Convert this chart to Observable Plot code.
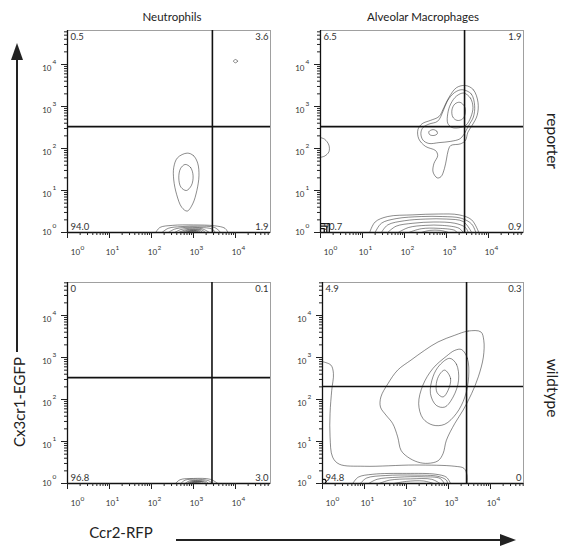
<!DOCTYPE html>
<html><head><meta charset="utf-8">
<script src="https://cdn.jsdelivr.net/npm/d3@7"></script>
<script src="https://cdn.jsdelivr.net/npm/@observablehq/plot@0.6"></script>
<style>
body{margin:0;background:#fff;}
#root{position:relative;width:561px;height:546px;overflow:hidden;font-family:Lato,"Open Sans",sans-serif;color:#222;}
.panel{position:absolute;}
.lbl{position:absolute;white-space:nowrap;line-height:1;}
.bar{position:absolute;background:#222;}
.head{position:absolute;width:0;height:0;}
</style></head><body><div id="root"></div>
<script>
// ---- categories & labels ----
const cellTypes = ["Neutrophils", "Alveolar Macrophages"];
const genotypes = ["reporter", "wildtype"];
const xAxisTitle = "Ccr2-RFP";
const yAxisTitle = "Cx3cr1-EGFP";
const decades = [0, 1, 2, 3, 4];
const tickBase = "10";

// ---- quadrant percentages [UL, UR, LL, LR] ----
const quadNeutroReporter = ["0.5", "3.6", "94.0", "1.9"];
const quadMacroReporter = ["6.5", "1.9", "90.7", "0.9"];
const quadNeutroWildtype = ["0", "0.1", "96.8", "3.0"];
const quadMacroWildtype = ["4.9", "0.3", "94.8", "0"];

// ---- gates (log10 units) for panels TL, TR, BL, BR ----
const gateCcr2 = [3.45, 3.43, 3.44, 3.43];
const gateCx3cr1 = [2.52, 2.52, 2.52, 2.31];

// ---- contours, in log10 (decade) units: [log10 Ccr2, log10 Cx3cr1] ----
const nrLoops = [
  [[2.85,1.89],[3.0,1.83],[3.10,1.65],[3.13,1.35],[3.08,1.0],[2.98,0.68],[2.85,0.51],[2.72,0.6],[2.6,0.9],[2.53,1.25],[2.53,1.55],[2.62,1.78]],
  [[2.8,1.62],[2.93,1.55],[2.99,1.35],[2.95,1.12],[2.83,1.0],[2.7,1.08],[2.65,1.3],[2.69,1.52]],
  [[4.0,4.12],[4.05,4.08],[4.0,4.04],[3.95,4.08]]
];
const nrHumps = [
  [[2.1,0],[2.2,0.12],[2.5,0.17],[3.0,0.18],[3.5,0.16],[3.75,0.1],[3.82,0]],
  [[2.25,0],[2.4,0.1],[2.7,0.14],[3.1,0.15],[3.5,0.12],[3.65,0]],
  [[2.4,0],[2.55,0.08],[2.8,0.12],[3.15,0.12],[3.45,0.08],[3.52,0]],
  [[2.55,0],[2.7,0.07],[2.9,0.1],[3.2,0.09],[3.38,0]],
  [[2.65,0],[2.8,0.06],[3.0,0.08],[3.2,0.06],[3.28,0]],
  [[2.72,0],[2.85,0.05],[3.0,0.065],[3.15,0.05],[3.22,0]],
  [[2.78,0],[2.9,0.04],[3.0,0.05],[3.12,0.035],[3.17,0]],
  [[2.83,0],[2.92,0.03],[3.02,0.035],[3.1,0.02],[3.13,0]],
  [[2.87,0],[2.95,0.02],[3.03,0.02],[3.08,0]]
];

const mrLoops = [
  [[3.45,3.5],[3.64,3.40],[3.75,3.10],[3.73,2.79],[3.61,2.55],[3.51,2.39],[3.45,2.19],[3.33,2.11],[3.10,2.07],[3.04,1.95],[3.0,1.75],[2.95,1.52],[2.87,1.33],[2.78,1.30],[2.68,1.44],[2.70,1.64],[2.79,1.83],[2.74,1.95],[2.5,2.05],[2.34,2.23],[2.32,2.45],[2.42,2.59],[2.62,2.67],[2.82,2.76],[2.94,2.98],[3.06,3.22],[3.24,3.45]],
  [[3.37,3.40],[3.59,3.30],[3.67,3.02],[3.64,2.75],[3.53,2.55],[3.41,2.33],[3.32,2.23],[3.10,2.17],[2.82,2.14],[2.58,2.12],[2.44,2.20],[2.39,2.36],[2.44,2.50],[2.58,2.58],[2.79,2.65],[2.92,2.89],[3.02,3.13],[3.19,3.33]],
  [[3.41,3.32],[3.57,3.20],[3.63,2.98],[3.58,2.75],[3.47,2.56],[3.33,2.50],[3.13,2.50],[3.03,2.60],[3.03,2.83],[3.10,3.06],[3.24,3.25]],
  [[3.32,3.10],[3.43,3.0],[3.45,2.85],[3.38,2.70],[3.25,2.67],[3.15,2.75],[3.13,2.92],[3.2,3.06]],
  [[2.68,2.45],[2.77,2.41],[2.78,2.35],[2.7,2.31],[2.6,2.33],[2.58,2.4]]
];
const mrHumps = [
  [[0,2.26],[0.1,2.22],[0.2,2.08],[0.2,1.92],[0.1,1.82],[0,1.79]],
  [[1.17,0],[1.3,0.25],[1.6,0.38],[2.2,0.42],[2.8,0.44],[3.3,0.42],[3.6,0.3],[3.77,0]],
  [[1.3,0],[1.45,0.22],[1.8,0.33],[2.4,0.38],[2.9,0.38],[3.35,0.34],[3.6,0.2],[3.7,0]],
  [[1.45,0],[1.6,0.18],[2.0,0.28],[2.5,0.32],[3.0,0.32],[3.4,0.26],[3.6,0]],
  [[1.6,0],[1.8,0.15],[2.2,0.22],[2.7,0.25],[3.2,0.22],[3.45,0.12],[3.52,0]],
  [[1.85,0],[2.1,0.12],[2.5,0.17],[2.9,0.17],[3.3,0.1],[3.4,0]],
  [[2.1,0],[2.4,0.09],[2.8,0.1],[3.2,0.05],[3.25,0]],
  [[2.4,0],[2.6,0.05],[2.85,0.05],[3.05,0]]
];
const mrCorners = [
  [[0,0.21],[0.21,0.21],[0.21,0]],
  [[0,0.15],[0.15,0.15],[0.15,0]],
  [[0,0.09],[0.09,0.09],[0.09,0]]
];

const nwLoops = [];
const nwHumps = [
  [[2.57,0],[2.68,0.09],[3.0,0.12],[3.4,0.1],[3.58,0]],
  [[2.7,0],[2.8,0.08],[3.05,0.1],[3.35,0.07],[3.45,0]],
  [[2.8,0],[2.9,0.06],[3.1,0.07],[3.3,0.05],[3.35,0]],
  [[2.85,0],[2.95,0.05],[3.1,0.055],[3.25,0.04],[3.3,0]],
  [[2.88,0],[3.0,0.045],[3.2,0.04],[3.25,0]],
  [[2.92,0],[3.02,0.03],[3.15,0.025],[3.2,0]],
  [[2.95,0],[3.05,0.02],[3.15,0]]
];

const mwLoops = [
  [[3.77,3.61],[3.47,3.63],[3.15,3.53],[2.75,3.37],[2.43,3.17],[2.11,2.94],[1.79,2.70],[1.56,2.38],[1.39,2.06],[1.38,1.82],[1.51,1.63],[1.67,1.43],[1.79,1.11],[1.87,0.79],[2.03,0.63],[2.27,0.51],[2.51,0.48],[2.75,0.54],[2.87,0.71],[2.95,1.03],[3.15,1.43],[3.35,1.75],[3.55,2.14],[3.71,2.54],[3.83,3.01],[3.84,3.41]],
  [[3.31,3.19],[3.45,2.98],[3.48,2.54],[3.39,2.06],[3.19,1.67],[2.91,1.41],[2.63,1.39],[2.39,1.55],[2.29,1.90],[2.39,2.34],[2.63,2.74],[2.95,3.03],[3.15,3.17]],
  [[3.03,2.98],[3.19,2.84],[3.24,2.46],[3.11,2.06],[2.91,1.82],[2.71,1.86],[2.57,2.14],[2.63,2.54],[2.79,2.82]],
  [[2.91,2.70],[3.05,2.50],[2.99,2.22],[2.87,2.06],[2.73,2.16],[2.71,2.38],[2.79,2.60]]
];
const mwHumps = [
  [[0,2.90],[0.2,2.82],[0.26,2.62],[0.22,2.22],[0.18,1.67],[0.18,1.11],[0.24,0.63],[0.40,0.46],[1.0,0.41],[2.19,0.44],[3.15,0.41],[3.37,0.36],[3.44,0.2],[3.44,0]],
  [[0.72,0],[0.85,0.15],[1.2,0.22],[2.0,0.24],[2.7,0.22],[2.95,0.15],[3.05,0]],
  [[0.9,0],[1.05,0.13],[1.5,0.19],[2.2,0.2],[2.75,0.17],[2.95,0.08],[2.98,0]],
  [[1.1,0],[1.3,0.1],[1.8,0.15],[2.4,0.16],[2.8,0.12],[2.9,0]],
  [[1.35,0],[1.6,0.08],[2.1,0.11],[2.6,0.1],[2.8,0]],
  [[1.7,0],[2.0,0.05],[2.4,0.06],[2.65,0]]
];
const mwCorners = [
  [[0,0.1],[0.06,0.1],[0.09,0.05],[0.06,0]]
];

// ---- drawing ----
const root = document.getElementById("root");
const rows = paths => paths.flatMap((p, i) => p.map(([x, y]) => ({x, y, id: i})));
const PX_PER_DECADE = 42;
const ML = 50, MR = 20, MT = 12, MB = 32;

function panel(cfg) {
  const xMax = cfg.frameW / PX_PER_DECADE, yMax = cfg.frameH / PX_PER_DECADE;
  const minor = max => decades.flatMap(k => [2,3,4,5,6,7,8,9].map(m => k + Math.log10(m))).filter(v => v < max);
  const q = cfg.quads;
  const txt = {fill: "#333", fontSize: 9.5};
  const lbl = {fill: "#333"};
  const svg = Plot.plot({
    width: ML + cfg.frameW + MR, height: MT + cfg.frameH + MB,
    marginLeft: ML, marginRight: MR, marginTop: MT, marginBottom: MB,
    x: {domain: [0, xMax]}, y: {domain: [0, yMax]},
    style: {background: "transparent", fontFamily: "Lato, 'Open Sans', sans-serif", overflow: "visible"},
    marks: [
      Plot.frame({stroke: "#a0a0a0", strokeWidth: 1}),
      Plot.line(rows(cfg.loops), {x: "x", y: "y", z: "id", curve: "catmull-rom-closed", stroke: "#000", strokeOpacity: 0.5, strokeWidth: 0.9, clip: true}),
      Plot.line(rows(cfg.humps), {x: "x", y: "y", z: "id", curve: "catmull-rom", stroke: "#000", strokeOpacity: 0.5, strokeWidth: 0.9, clip: true}),
      Plot.line(rows(cfg.corners), {x: "x", y: "y", z: "id", curve: "linear", stroke: "#111", strokeWidth: 1.3, clip: true}),
      Plot.ruleX([cfg.gx], {stroke: "#111", strokeWidth: 1.6}),
      Plot.ruleY([cfg.gy], {stroke: "#111", strokeWidth: 1.6}),
      Plot.ruleX([0], {stroke: "#111", strokeWidth: 1.3}),
      Plot.ruleY([0], {stroke: "#111", strokeWidth: 1.3}),
      Plot.axisX({ticks: minor(xMax), tickSize: 3, tickFormat: () => "", label: null, stroke: "#222"}),
      Plot.axisX({ticks: decades, tickSize: 6, tickFormat: () => "", label: null, stroke: "#222"}),
      Plot.axisY({ticks: minor(yMax), tickSize: 3, tickFormat: () => "", label: null, stroke: "#222"}),
      Plot.axisY({ticks: decades, tickSize: 6, tickFormat: () => "", label: null, stroke: "#222"}),
      // x tick labels 10^k
      Plot.text(decades.slice(0, 1), {x: d => d, frameAnchor: "bottom", text: () => tickBase, dx: 8, dy: 20, fontSize: 8, lineAnchor: "middle", ...lbl}),
      Plot.text(decades.slice(1), {x: d => d, frameAnchor: "bottom", text: () => tickBase, dx: 1, dy: 20, fontSize: 8, lineAnchor: "middle", ...lbl}),
      Plot.text(decades.slice(0, 1), {x: d => d, frameAnchor: "bottom", text: d => String(d), dx: 15, dy: 15, fontSize: 6.5, lineAnchor: "middle", ...lbl}),
      Plot.text(decades.slice(1), {x: d => d, frameAnchor: "bottom", text: d => String(d), dx: 8, dy: 15, fontSize: 6.5, lineAnchor: "middle", ...lbl}),
      // y tick labels 10^k
      Plot.text(decades.slice(0, 1), {y: d => d, frameAnchor: "left", text: () => tickBase, textAnchor: "end", dx: -16, dy: 0, fontSize: 8, lineAnchor: "middle", ...lbl}),
      Plot.text(decades.slice(1), {y: d => d, frameAnchor: "left", text: () => tickBase, textAnchor: "end", dx: -16, dy: 3.5, fontSize: 8, lineAnchor: "middle", ...lbl}),
      Plot.text(decades.slice(0, 1), {y: d => d, frameAnchor: "left", text: d => String(d), textAnchor: "start", dx: -15, dy: -7, fontSize: 6.5, lineAnchor: "middle", ...lbl}),
      Plot.text(decades.slice(1), {y: d => d, frameAnchor: "left", text: d => String(d), textAnchor: "start", dx: -15, dy: -3, fontSize: 6.5, lineAnchor: "middle", ...lbl}),
      // quadrant percentages
      Plot.text([q[0]], {frameAnchor: "top-left", text: d => d, textAnchor: "start", lineAnchor: "top", dx: 3, dy: 3, ...txt}),
      Plot.text([q[1]], {frameAnchor: "top-right", text: d => d, textAnchor: "end", lineAnchor: "top", dx: -2, dy: 3, ...txt}),
      Plot.text([q[2]], {frameAnchor: "bottom-left", text: d => d, textAnchor: "start", lineAnchor: "bottom", dx: 3, dy: -3, ...txt}),
      Plot.text([q[3]], {frameAnchor: "bottom-right", text: d => d, textAnchor: "end", lineAnchor: "bottom", dx: -2, dy: -3, ...txt})
    ]
  });
  const div = document.createElement("div");
  div.className = "panel";
  div.style.left = (cfg.frameLeft - ML) + "px";
  div.style.top = (cfg.frameTop - MT) + "px";
  div.appendChild(svg);
  root.appendChild(div);
}

panel({frameLeft: 67, frameTop: 30, frameW: 203, frameH: 202, loops: nrLoops, humps: nrHumps, corners: [], quads: quadNeutroReporter, gx: gateCcr2[0], gy: gateCx3cr1[0]});
panel({frameLeft: 320, frameTop: 30, frameW: 203, frameH: 202, loops: mrLoops, humps: mrHumps, corners: mrCorners, quads: quadMacroReporter, gx: gateCcr2[1], gy: gateCx3cr1[1]});
panel({frameLeft: 67, frameTop: 282, frameW: 203, frameH: 201, loops: nwLoops, humps: nwHumps, corners: [], quads: quadNeutroWildtype, gx: gateCcr2[2], gy: gateCx3cr1[2]});
panel({frameLeft: 322, frameTop: 282, frameW: 201, frameH: 201, loops: mwLoops, humps: mwHumps, corners: mwCorners, quads: quadMacroWildtype, gx: gateCcr2[3], gy: gateCx3cr1[3]});

function addLabel(text, cx, cy, size, rot) {
  const d = document.createElement("div");
  d.className = "lbl";
  d.textContent = text;
  d.style.left = cx + "px";
  d.style.top = cy + "px";
  d.style.fontSize = size + "px";
  d.style.transform = `translate(-50%,-50%) rotate(${rot || 0}deg)`;
  root.appendChild(d);
}
addLabel(cellTypes[0], 172, 17, 11.5, 0);
addLabel(cellTypes[1], 423, 17, 11.5, 0);
addLabel(genotypes[0], 552, 141, 15.5, 90);
addLabel(genotypes[1], 552, 388, 15.5, 90);
addLabel(yAxisTitle, 19, 402, 15, -90);
addLabel(xAxisTitle, 121, 532, 15, 0);

function addBox(cls, css) {
  const d = document.createElement("div");
  d.className = cls;
  Object.assign(d.style, css);
  root.appendChild(d);
}
// vertical arrow (Cx3cr1-EGFP)
addBox("bar", {left: "16.2px", top: "58px", width: "1.6px", height: "294px"});
addBox("head", {left: "11px", top: "43px", borderLeft: "6px solid transparent", borderRight: "6px solid transparent", borderBottom: "17px solid #222"});
// horizontal arrow (Ccr2-RFP)
addBox("bar", {left: "176px", top: "539.2px", width: "326px", height: "1.6px"});
addBox("head", {left: "500px", top: "534px", borderTop: "6px solid transparent", borderBottom: "6px solid transparent", borderLeft: "16px solid #222"});
</script>
</body></html>
